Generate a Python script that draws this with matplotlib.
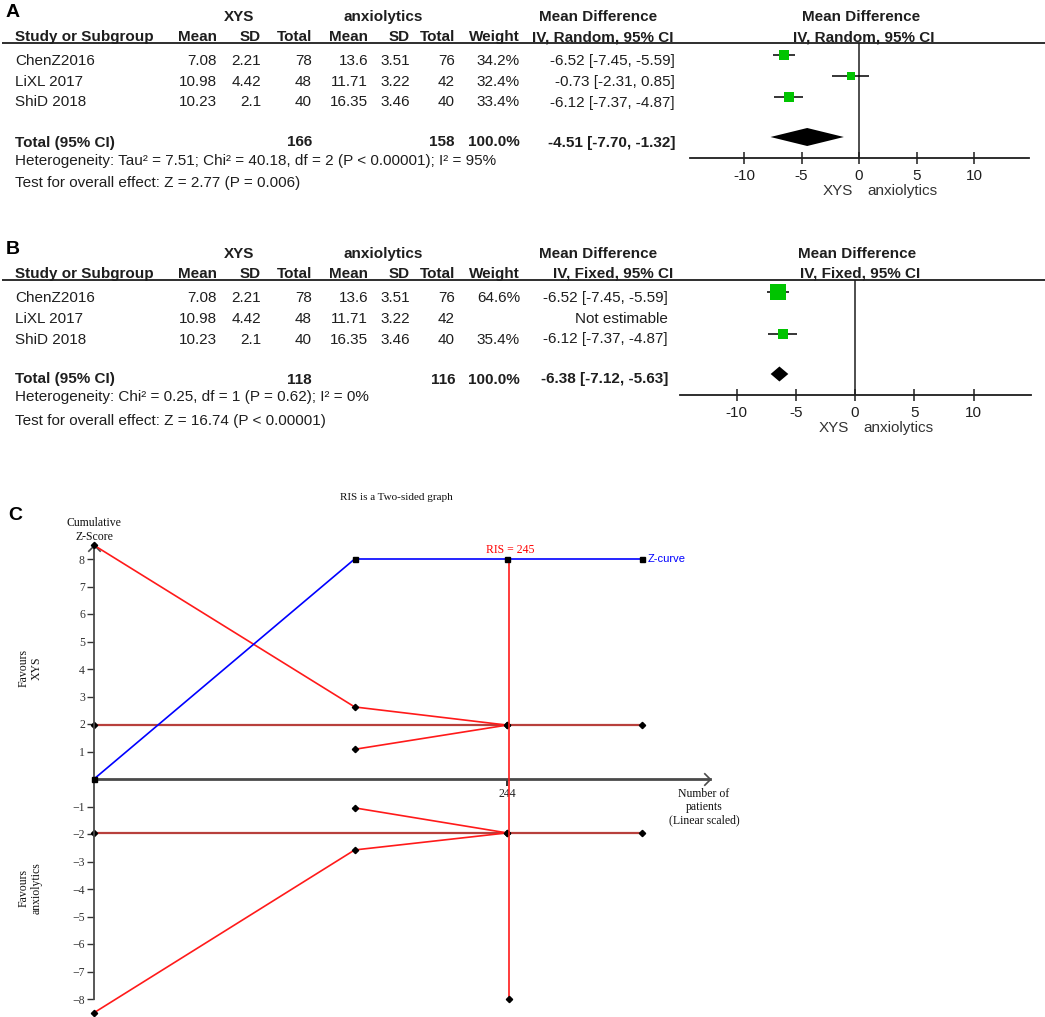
import matplotlib
matplotlib.use('Agg')
import matplotlib.pyplot as plt
from matplotlib.path import Path
from matplotlib.patches import Polygon

# ---------------- data ----------------
studies = ['ChenZ2016', 'LiXL 2017', 'ShiD 2018']
xys_mean = [7.08, 10.98, 10.23]
xys_sd = [2.21, 4.42, 2.1]
xys_n = [78, 48, 40]
anx_mean = [13.6, 11.71, 16.35]
anx_sd = [3.51, 3.22, 3.46]
anx_n = [76, 42, 40]
md = [-6.52, -0.73, -6.12]
md_lo = [-7.45, -2.31, -7.37]
md_hi = [-5.59, 0.85, -4.87]

weights_random = [34.2, 32.4, 33.4]
weights_fixed = [64.6, None, 35.4]
pooled_random = [-4.51, -7.70, -1.32]
pooled_fixed = [-6.38, -7.12, -5.63]
totals_random = [166, 158]
totals_fixed = [118, 116]
het_random = 'Heterogeneity: Tau² = 7.51; Chi² = 40.18, df = 2 (P < 0.00001); I² = 95%'
overall_random = 'Test for overall effect: Z = 2.77 (P = 0.006)'
het_fixed = 'Heterogeneity: Chi² = 0.25, df = 1 (P = 0.62); I² = 0%'
overall_fixed = 'Test for overall effect: Z = 16.74 (P < 0.00001)'
forest_ticks = [-10, -5, 0, 5, 10]
forest_ticklabels = ['-10', '-5', '0', '5', '10']

# TSA data
cum_n = [0, 154, 244, 324]
z_curve = [0, 8.0, 8.0, 8.0]
bound_n = [0, 154, 244]
upper_bound = [8.5, 2.62, 1.96]
lower_bound = [-8.5, -2.58, -1.96]
inner_n = [154, 244]
inner_upper = [1.08, 1.96]
inner_lower = [-1.05, -1.96]
conv_z = 1.96
ris = 245
ris_span = [-8, 8]
tsa_xticks = [244]
tsa_yticks = [-8, -7, -6, -5, -4, -3, -2, -1, 1, 2, 3, 4, 5, 6, 7, 8]

# ---------------- figure ----------------
W, H = 1045, 1017
fig = plt.figure(figsize=(W / 100, H / 100), dpi=100)
fig.patch.set_facecolor('white')
SANS = 'Liberation Sans'
SERIF = 'Liberation Serif'
TXT = '#1e1e1e'
GREEN = '#00C400'


def px_axes(x0, y0, x1, y1):
    return fig.add_axes([x0 / W, 1 - y1 / H, (x1 - x0) / W, (y1 - y0) / H])


tax = px_axes(0, 0, W, H)
tax.set_xlim(0, W)
tax.set_ylim(H, 0)
tax.axis('off')


def t(x, y, s, ha='left', va='baseline', size=11, weight='normal', color=TXT, family=SANS, **kw):
    tax.text(x, y, s, ha=ha, va=va, fontsize=size, fontweight=weight, color=color,
             family=family, **kw)


COLS = dict(mean1=217, sd1=261, tot1=312, mean2=368, sd2=410, tot2=455, weight=520)


def fmt_ci(v):
    return f'{v[0]:.2f} [{v[1]:.2f}, {v[2]:.2f}]'


def forest(dy, letter, method, weights, pooled, totals, het, overall, md_right,
           fx, xlim, hdr_cx, diamond_h, sq_scale):
    y = lambda v: v + dy
    t(6, y(17), letter, size=14, weight='bold', color='black')
    t(239, y(21), 'XYS', ha='center', weight='bold')
    t(383, y(21), 'anxiolytics', ha='center', weight='bold')
    t(598, y(21), 'Mean Difference', ha='center', weight='bold')
    t(hdr_cx, y(21), 'Mean Difference', ha='center', weight='bold')
    hb = y(41)
    t(15, hb, 'Study or Subgroup', weight='bold')
    for key, lab in [('mean1', 'Mean'), ('sd1', 'SD'), ('tot1', 'Total'), ('mean2', 'Mean'),
                     ('sd2', 'SD'), ('tot2', 'Total'), ('weight', 'Weight')]:
        t(COLS[key], hb, lab, ha='right', weight='bold')
    t(673, hb, f'IV, {method}, 95% CI', ha='right', weight='bold')
    t(hdr_cx + 3, hb, f'IV, {method}, 95% CI', ha='center', weight='bold')
    tax.hlines(y(43), 2, W, color=TXT, lw=1.3)

    row_base = [65, 86, 106.5]
    for i, name in enumerate(studies):
        b = y(row_base[i])
        t(15, b, name)
        t(COLS['mean1'], b, f'{xys_mean[i]:g}', ha='right')
        t(COLS['sd1'], b, f'{xys_sd[i]:g}', ha='right')
        t(COLS['tot1'], b, str(xys_n[i]), ha='right')
        t(COLS['mean2'], b, f'{anx_mean[i]:g}', ha='right')
        t(COLS['sd2'], b, f'{anx_sd[i]:g}', ha='right')
        t(COLS['tot2'], b, str(anx_n[i]), ha='right')
        w = weights[i]
        if w is None:
            t(md_right, b, 'Not estimable', ha='right')
        else:
            t(COLS['weight'], b, f'{w:.1f}%', ha='right')
            t(md_right, b, fmt_ci([md[i], md_lo[i], md_hi[i]]), ha='right')
    tb = y(146.5)
    t(15, tb, 'Total (95% CI)', weight='bold')
    t(COLS['tot1'], tb, str(totals[0]), ha='right', weight='bold')
    t(COLS['tot2'], tb, str(totals[1]), ha='right', weight='bold')
    t(COLS['weight'], tb, '100.0%', ha='right', weight='bold')
    t(md_right, tb, fmt_ci(pooled), ha='right', weight='bold')
    t(15, y(164.5), het)
    t(15, y(187.5), overall)

    ax = px_axes(fx[0], y(43), fx[1], y(157.5))
    ax.set_xlim(*xlim)
    ax.set_ylim(y(157.5), y(43))
    ax.patch.set_alpha(0)
    for s in ['top', 'left', 'right']:
        ax.spines[s].set_visible(False)
    ax.spines['bottom'].set_linewidth(1.3)
    ax.spines['bottom'].set_color(TXT)
    ax.set_yticks([])
    ax.set_xticks(forest_ticks)
    ax.set_xticklabels(forest_ticklabels, family=SANS)
    ax.tick_params(axis='x', direction='inout', length=8, width=1.1, labelsize=11,
                   pad=4, colors=TXT)
    ax.axvline(0, color=TXT, lw=1.1)
    sq_y = [55, 76, 97]
    for i in range(len(studies)):
        w = weights[i]
        if w is None:
            continue
        ax.hlines(y(sq_y[i]), md_lo[i], md_hi[i], color='black', lw=1.1, zorder=2)
        ax.plot(md[i], y(sq_y[i]), marker='s', ms=sq_scale * w * 0.72, color=GREEN,
                mec=GREEN, mew=0, zorder=3)
    dc = y(137)
    ax.add_patch(Polygon([(pooled[1], dc), (pooled[0], dc - diamond_h), (pooled[2], dc),
                          (pooled[0], dc + diamond_h)], closed=True, color='black', lw=0))
    ax.annotate('XYS', xy=(0, 0), xycoords=('data', 'axes fraction'), xytext=(-4.3, -24.2),
                textcoords='offset points', ha='right', va='center', fontsize=11,
                color='#333333', family=SANS)
    ax.annotate('anxiolytics', xy=(0, 0), xycoords=('data', 'axes fraction'),
                xytext=(5.8, -24.2), textcoords='offset points', ha='left', va='center',
                fontsize=11, color='#333333', family=SANS)


forest(0, 'A', 'Random', weights_random, pooled_random, totals_random, het_random,
       overall_random, 675, (690, 1029), (-14.7, 14.78), 861, 9, 0.27)
forest(237, 'B', 'Fixed', weights_fixed, pooled_fixed, totals_fixed, het_fixed,
       overall_fixed, 668, (680, 1031), (-14.77, 14.85), 857, 7.5, 0.255)

# ---------------- panel C: TSA ----------------
OX, OY = 94, 779
KX, KY = 413 / 244, 27.5
XL, YL = (-50, 400), (-8.6, 9.5)
cax = px_axes(OX + XL[0] * KX, OY - YL[1] * KY, OX + XL[1] * KX, OY - YL[0] * KY)
cax.set_xlim(*XL)
cax.set_ylim(*YL)
cax.patch.set_alpha(0)
AXC = '#4a4a4a'
for s in ['top', 'right']:
    cax.spines[s].set_visible(False)
cax.spines['left'].set_position(('data', 0))
cax.spines['left'].set_bounds(-8, 8.5)
cax.spines['left'].set_color(AXC)
cax.spines['left'].set_linewidth(1.3)
cax.spines['bottom'].set_position(('data', 0))
cax.spines['bottom'].set_bounds(0, 364)
cax.spines['bottom'].set_color(AXC)
cax.spines['bottom'].set_linewidth(2)
cax.set_yticks(tsa_yticks)
cax.set_yticklabels([str(v).replace('-', '\u2212') for v in tsa_yticks], family=SERIF)
cax.set_xticks(tsa_xticks)
cax.set_xticklabels([str(v) for v in tsa_xticks], family=SERIF)
cax.tick_params(axis='y', direction='out', length=5, width=1, pad=1.5, labelsize=8.5,
                colors='#333333')
cax.tick_params(axis='x', direction='out', length=5, width=1.3, pad=1.5, labelsize=8.5,
                colors='#222222')

chev_right = Path([(-1, 1), (0, 0), (-1, -1)], [Path.MOVETO, Path.LINETO, Path.LINETO])
chev_up = Path([(-1, -1), (0, 0), (1, -1)], [Path.MOVETO, Path.LINETO, Path.LINETO])
cax.plot([364], [0], marker=chev_right, ms=9, mfc='none', mec=AXC, mew=1.2, clip_on=False)
cax.plot([0], [8.5], marker=chev_up, ms=9, mfc='none', mec=AXC, mew=1.2, clip_on=False)

RED = '#FF1A1A'
CONV = '#B8403C'
mk = dict(marker='D', ms=3.2, mfc='black', mec='black', clip_on=False)
for zc in (conv_z, -conv_z):
    cax.plot([cum_n[0], cum_n[-1]], [zc, zc], color=CONV, lw=1.6, zorder=2, **mk)
cax.plot(bound_n, upper_bound, color=RED, lw=1.2, zorder=3, **mk)
cax.plot(bound_n, lower_bound, color=RED, lw=1.2, zorder=3, **mk)
cax.plot(inner_n, inner_upper, color=RED, lw=1.2, zorder=3, **mk)
cax.plot(inner_n, inner_lower, color=RED, lw=1.2, zorder=3, **mk)
cax.plot([ris, ris], ris_span, color=RED, lw=1.2, zorder=3, marker='D', ms=3.2,
         mfc='black', mec='black', markevery=[0])
cax.plot(cum_n, z_curve, color='#0000FF', lw=1.2, zorder=4, marker='s', ms=3.6,
         mfc='black', mec='black', clip_on=False)

cax.annotate(f'RIS = {ris}', xy=(ris, ris_span[1]), xytext=(1, 6.5), textcoords='offset points',
             ha='center', va='center', fontsize=8.5, color='#FF0000', family=SERIF)
cax.annotate('Z-curve', xy=(cum_n[-1], z_curve[-1]), xytext=(3.4, 0),
             textcoords='offset points', ha='left', va='center', fontsize=8,
             color='#0000FF', family=SANS)

t(8, 520, 'C', size=14, weight='bold', color='black')
t(396, 498, 'RIS is a Two-sided graph', ha='center', va='center', size=8,
  color='#111111', family=SERIF)
t(94, 530, 'Cumulative\nZ-Score', ha='center', va='center', size=8.5, color='#111111',
  family=SERIF, linespacing=1.15, multialignment='center')
t(704, 807, 'Number of\npatients\n(Linear scaled)', ha='center', va='center', size=8.5,
  color='#111111', family=SERIF, linespacing=1.15, multialignment='center')
t(30, 668, 'Favours\nXYS', ha='center', va='center', size=8.5, color='#111111',
  family=SERIF, rotation=90, linespacing=1.15, multialignment='center')
t(30, 888, 'Favours\nanxiolytics', ha='center', va='center', size=8.5, color='#111111',
  family=SERIF, rotation=90, linespacing=1.15, multialignment='center')

fig.savefig('out.png', dpi=100, facecolor='white')
